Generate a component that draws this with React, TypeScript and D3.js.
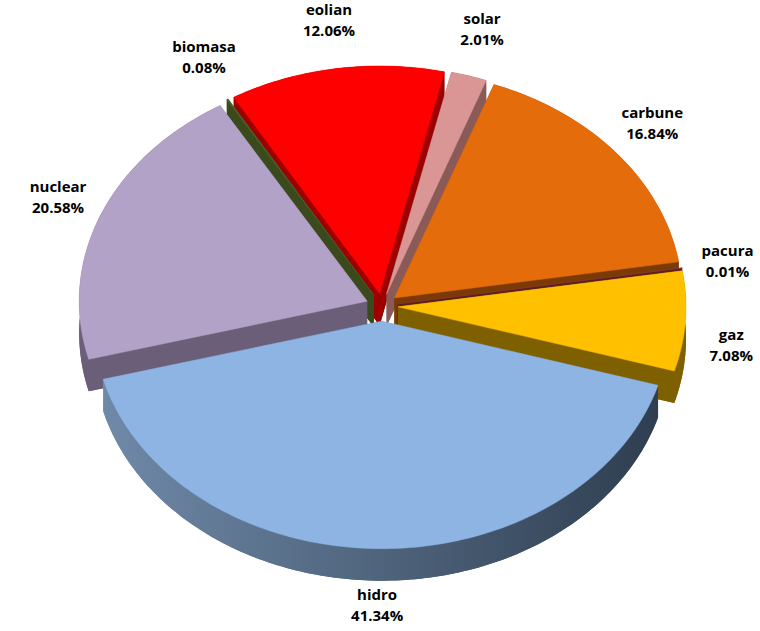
import React from 'react';
import * as d3 from 'd3';

const categories = ['solar', 'carbune', 'pacura', 'gaz', 'hidro', 'nuclear', 'biomasa', 'eolian'];
const values = [2.01, 16.84, 0.01, 7.08, 41.34, 20.58, 0.08, 12.06];
const topColors = ['#d99694', '#e46c0a', '#953735', '#ffc000', '#8db4e2', '#b3a2c7', '#4f6228', '#ff0000'];
const sideColors = ['#8a5a59', '#7a3a06', '#5a1f1e', '#7f6000', '#41546b', '#6a5e78', '#3a4a1c', '#9c0000'];

const W = 760, H = 631;
const cx = 382, cy = 306, R = 288, tilt = 0.79, depth = 32, explode = 16;
const startDeg = 13;

export default function App() {
  const pie = d3.pie<number>().sort(null).startAngle((startDeg * Math.PI) / 180).endAngle(((startDeg + 360) * Math.PI) / 180);
  const arcs = pie(values);

  const slices = arcs.map((a, i) => {
    const mid = (a.startAngle + a.endAngle) / 2;
    const ex = i === 4 ? explode * 1.2 : explode;
    const dx = ex * Math.sin(mid), dy = -ex * Math.cos(mid) * tilt;
    const pt = (ang: number, r: number, z: number): [number, number] => [
      cx + dx + r * Math.sin(ang), cy + dy - r * Math.cos(ang) * tilt + z,
    ];
    const n = Math.max(2, Math.ceil(((a.endAngle - a.startAngle) * 180) / Math.PI));
    const angs = d3.range(n + 1).map(k => a.startAngle + ((a.endAngle - a.startAngle) * k) / n);
    const line = d3.line();
    const face = (z: number) => line([pt(0, 0, z), ...angs.map(g => pt(g, R, z))])! + 'Z';
    const wall = line([...angs.map(g => pt(g, R, 0)), ...angs.slice().reverse().map(g => pt(g, R, depth))])! + 'Z';
    const rad = (g: number) => line([pt(0, 0, 0), pt(g, R, 0), pt(g, R, depth), pt(0, 0, depth)])! + 'Z';
    const lr = R + 62;
    const c = Math.cos(mid);
    const lx = Math.min(cx + lr * Math.sin(mid), 738);
    const ly = Math.min(cy - 290 * c + (c < 0 ? -c * depth : 0) + (Math.abs(c) < 0.1 ? 18 : 0), 604);
    return { i, mid, top: face(0), bottom: face(depth), wall, r1: rad(a.startAngle), r2: rad(a.endAngle), lx, ly };
  });

  const order = slices.slice().sort((a, b) => -Math.cos(a.mid) + Math.cos(b.mid));

  return (
    <svg width={W} height={H} style={{ position: 'absolute', left: 0, top: 0 }}>
      <defs>
        <linearGradient id="hidroSide" x1="0" x2="1" y1="0" y2="0">
          <stop offset="0%" stopColor="#6f89a8" />
          <stop offset="100%" stopColor="#2f3e50" />
        </linearGradient>
      </defs>
      {order.map(s => {
        const side = s.i === 4 ? 'url(#hidroSide)' : sideColors[s.i];
        return (
          <g key={s.i}>
            <path d={s.bottom} fill={side} />
            <path d={s.r1} fill={side} />
            <path d={s.r2} fill={side} />
            <path d={s.wall} fill={side} />
            <path d={s.top} fill={topColors[s.i]} stroke={topColors[s.i]} strokeWidth={0.5} />
          </g>
        );
      })}
      {slices.map(s => (
        <text key={s.i} x={s.lx} y={s.ly} textAnchor="middle"
          style={{ fontFamily: 'Open Sans, sans-serif', fontWeight: 700, fontSize: 15 }}>
          <tspan x={s.lx} dy={-4}>{categories[s.i]}</tspan>
          <tspan x={s.lx} dy={21}>{values[s.i].toFixed(2)}%</tspan>
        </text>
      ))}
    </svg>
  );
}
